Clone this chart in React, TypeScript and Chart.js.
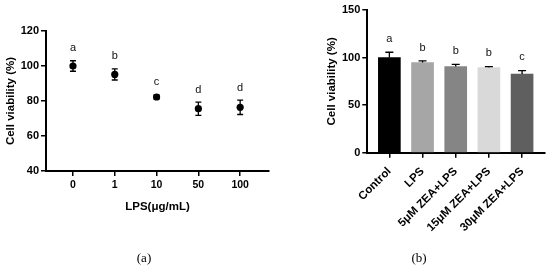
import React, { useEffect, useRef } from 'react';
import { Chart, registerables } from 'chart.js';

Chart.register(...registerables);

const FONT = "'Liberation Sans', Arial, sans-serif";

// Panel (a)
const lpsDoses = ['0', '1', '10', '50', '100'];
const viabilityA = [100, 95.2, 82.3, 75.6, 76.4];
const sdA = [3.0, 3.2, 1.2, 3.8, 4.1];
const lettersA = ['a', 'b', 'c', 'd', 'd'];
const yTicksA = [40, 60, 80, 100, 120];

// Panel (b)
const groupsB = ['Control', 'LPS', '5μM ZEA+LPS', '15μM ZEA+LPS', '30μM ZEA+LPS'];
const viabilityB = [100, 94.7, 90.5, 89.5, 82.7];
const sdB = [5.6, 1.8, 2.4, 1.0, 3.5];
const lettersB = ['a', 'b', 'b', 'b', 'c'];
const barColors = ['#000000', '#a6a6a6', '#858585', '#d9d9d9', '#5f5f5f'];
const yTicksB = [0, 50, 100, 150];

function makeAnnot(
  values: number[],
  errors: number[],
  letters: string[],
  cfg: { cap: number; upOnly: boolean; offset: number; fontSize: number }
) {
  return {
    id: 'annot',
    afterDatasetsDraw(chart: any) {
      const { ctx } = chart;
      const x = chart.scales.x;
      const y = chart.scales.y;
      ctx.save();
      ctx.strokeStyle = '#000';
      ctx.lineWidth = 1.3;
      ctx.fillStyle = '#111';
      ctx.font = `${cfg.fontSize}px ${FONT}`;
      ctx.textAlign = 'center';
      ctx.textBaseline = 'middle';
      values.forEach((v, i) => {
        const px = x.getPixelForValue(i);
        const top = y.getPixelForValue(v + errors[i]);
        const bot = cfg.upOnly ? y.getPixelForValue(v) : y.getPixelForValue(v - errors[i]);
        ctx.beginPath();
        ctx.moveTo(px, top);
        ctx.lineTo(px, bot);
        ctx.moveTo(px - cfg.cap / 2, top);
        ctx.lineTo(px + cfg.cap / 2, top);
        if (!cfg.upOnly) {
          ctx.moveTo(px - cfg.cap / 2, bot);
          ctx.lineTo(px + cfg.cap / 2, bot);
        }
        ctx.stroke();
        ctx.fillText(letters[i], px, top - cfg.offset);
      });
      ctx.restore();
    },
  };
}

const axisGrid = {
  drawOnChartArea: false,
  drawTicks: true,
  tickLength: 5,
  color: '#000',
  lineWidth: 1.5,
};
const axisBorder = { display: true, color: '#000', width: 2 };

function configA(): any {
  return {
    type: 'scatter',
    data: {
      datasets: [
        {
          data: viabilityA.map((v, i) => ({ x: i, y: v })),
          pointRadius: 3.6,
          pointHoverRadius: 3.6,
          backgroundColor: '#000',
          borderColor: '#000',
          borderWidth: 0,
        },
      ],
    },
    options: {
      responsive: false,
      animation: false,
      devicePixelRatio: 1,
      layout: { padding: { top: 31, left: 0, right: 6, bottom: 50 } },
      plugins: { legend: { display: false }, tooltip: { enabled: false } },
      scales: {
        x: {
          type: 'linear',
          min: -0.645,
          max: 4.69,
          afterBuildTicks: (ax: any) => {
            ax.ticks = lpsDoses.map((_, i) => ({ value: i }));
          },
          ticks: {
            callback: (_v: any, i: number) => lpsDoses[i],
            font: { family: FONT, size: 10.5, weight: 'bold' },
            color: '#000',
            padding: 3,
            autoSkip: false,
            maxRotation: 0,
          },
          grid: axisGrid,
          border: axisBorder,
          title: {
            display: true,
            text: 'LPS(μg/mL)',
            font: { family: FONT, size: 11.5, weight: 'bold' },
            color: '#000',
            padding: { top: 4, bottom: 4 },
          },
          afterFit: (ax: any) => {
            ax.height = 47;
          },
        },
        y: {
          min: 40,
          max: 120,
          afterBuildTicks: (ax: any) => {
            ax.ticks = yTicksA.map((v) => ({ value: v }));
          },
          ticks: {
            font: { family: FONT, size: 11, weight: 'bold' },
            color: '#000',
            padding: 2,
          },
          grid: axisGrid,
          border: axisBorder,
          title: {
            display: true,
            text: 'Cell viability (%)',
            font: { family: FONT, size: 11.5, weight: 'bold' },
            color: '#000',
            padding: { top: 4, bottom: 4 },
          },
          afterFit: (ax: any) => {
            ax.width = 46;
          },
        },
      },
    },
    plugins: [makeAnnot(viabilityA, sdA, lettersA, { cap: 6, upOnly: false, offset: 12.5, fontSize: 11 })],
  };
}

function configB(): any {
  return {
    type: 'bar',
    data: {
      datasets: [
        {
          data: viabilityB.map((v, i) => ({ x: i, y: v })),
          backgroundColor: barColors,
          borderWidth: 0,
          barThickness: 22,
        },
      ],
    },
    options: {
      responsive: false,
      animation: false,
      devicePixelRatio: 1,
      layout: { padding: { top: 10, left: 46, right: 5.7, bottom: 15 } },
      plugins: { legend: { display: false }, tooltip: { enabled: false } },
      scales: {
        x: {
          type: 'linear',
          min: -0.665,
          max: 4.67,
          offset: false,
          afterBuildTicks: (ax: any) => {
            ax.ticks = groupsB.map((_, i) => ({ value: i }));
          },
          ticks: {
            callback: (_v: any, i: number) => groupsB[i],
            font: { family: FONT, size: 11.5, weight: 'bold' },
            color: '#000',
            padding: 7,
            autoSkip: false,
            minRotation: 45,
            maxRotation: 45,
          },
          grid: { ...axisGrid, offset: false },
          border: axisBorder,
          afterFit: (ax: any) => {
            ax.height = 100.3;
          },
        },
        y: {
          min: 0,
          max: 150,
          afterBuildTicks: (ax: any) => {
            ax.ticks = yTicksB.map((v) => ({ value: v }));
          },
          ticks: {
            font: { family: FONT, size: 11, weight: 'bold' },
            color: '#000',
            padding: 2,
          },
          grid: axisGrid,
          border: axisBorder,
          title: {
            display: true,
            text: 'Cell viability (%)',
            font: { family: FONT, size: 11.5, weight: 'bold' },
            color: '#000',
            padding: { top: 4, bottom: 4 },
          },
          afterFit: (ax: any) => {
            ax.width = 46.3;
          },
        },
      },
    },
    plugins: [makeAnnot(viabilityB, sdB, lettersB, { cap: 8, upOnly: true, offset: 13.4, fontSize: 11 })],
  };
}

export default function App() {
  const refA = useRef<HTMLCanvasElement>(null);
  const refB = useRef<HTMLCanvasElement>(null);

  useEffect(() => {
    const a = new Chart(refA.current as HTMLCanvasElement, configA());
    const b = new Chart(refB.current as HTMLCanvasElement, configB());
    return () => {
      a.destroy();
      b.destroy();
    };
  }, []);

  const caption: React.CSSProperties = {
    position: 'absolute',
    top: 258,
    transform: 'translate(-50%, -50%)',
    font: "13px 'Liberation Serif', serif",
    color: '#000',
    whiteSpace: 'nowrap',
  };

  return (
    <div
      style={{
        position: 'fixed',
        left: 0,
        top: 0,
        width: 550,
        height: 268,
        background: '#fff',
        overflow: 'hidden',
      }}
    >
      <canvas
        ref={refA}
        width={275}
        height={268}
        style={{ position: 'absolute', left: 0, top: 0, width: 275, height: 268 }}
      />
      <canvas
        ref={refB}
        width={275}
        height={268}
        style={{ position: 'absolute', left: 275, top: 0, width: 275, height: 268 }}
      />
      <div style={{ ...caption, left: 144 }}>(a)</div>
      <div style={{ ...caption, left: 419 }}>(b)</div>
    </div>
  );
}
